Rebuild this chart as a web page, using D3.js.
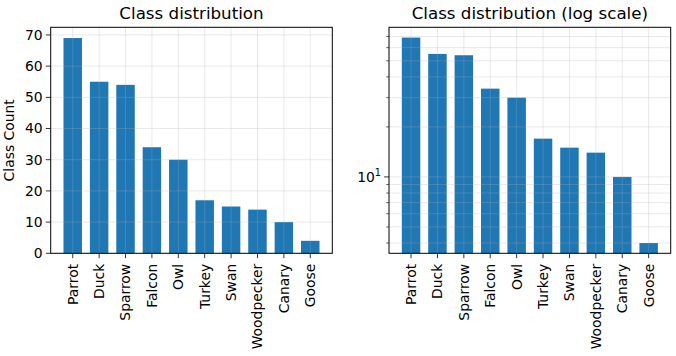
<!DOCTYPE html>
<html><head><meta charset="utf-8">
<script src="https://cdn.jsdelivr.net/npm/d3@7"></script>
<style>body{margin:0;background:#fff}svg{display:block}text{font-family:"DejaVu Sans",sans-serif;fill:#000}</style>
</head><body>
<svg id="c" width="676" height="356"></svg>
<script>
const categories = ["Parrot","Duck","Sparrow","Falcon","Owl","Turkey","Swan","Woodpecker","Canary","Goose"];
const counts = [69,55,54,34,30,17,15,14,10,4];
const linearTicks = [0,10,20,30,40,50,60,70];
const titles = ["Class distribution","Class distribution (log scale)"];
const yLabel = "Class Count";

(function(){
const svg = d3.select("#c");
const topY = 27.3, bottomY = 253.3;
const panels = [{left:50.7,right:332.3,log:false},{left:389,right:670.7,log:true}];
const barW = 0.7;
const n = categories.length;
const xmin = -barW/2 - 0.05*(n-1+barW), xmax = n-1+barW/2 + 0.05*(n-1+barW);

panels.forEach((p,pi)=>{
  const g = svg.append("g");
  const x = d3.scaleLinear().domain([xmin,xmax]).range([p.left,p.right]);
  let y;
  if(!p.log){
    y = d3.scaleLinear().domain([0, d3.max(counts)*1.05]).range([bottomY,topY]);
  } else {
    const lo = Math.log10(d3.min(counts)), hi = Math.log10(d3.max(counts));
    const m = 0.05*(hi-lo);
    y = d3.scaleLog().domain([Math.pow(10,lo-m), Math.pow(10,hi+m)]).range([bottomY,topY]);
  }
  g.selectAll("rect.bar").data(counts).enter().append("rect")
    .attr("x",(d,i)=>x(i-barW/2)).attr("width",(d,i)=>x(i+barW/2)-x(i-barW/2))
    .attr("y",d=>y(d)).attr("height",d=>bottomY-y(d)).attr("fill","#1f77b4");
  const grid = g.append("g").attr("stroke","#b0b0b0").attr("stroke-opacity",0.35).attr("stroke-width",0.8);
  categories.forEach((c,i)=>grid.append("line").attr("x1",x(i)).attr("x2",x(i)).attr("y1",topY).attr("y2",bottomY));
  let yt, minor=[];
  if(!p.log){ yt = linearTicks; }
  else {
    yt = [10];
    const [d0,d1]=y.domain();
    for(let e=0;e<3;e++) for(let k=1;k<10;k++){const v=k*Math.pow(10,e); if(v>=d0&&v<=d1&&v!==10) minor.push(v);}
  }
  yt.concat(minor).forEach(v=>grid.append("line").attr("x1",p.left).attr("x2",p.right).attr("y1",y(v)).attr("y2",y(v)));
  g.append("rect").attr("x",p.left).attr("y",topY).attr("width",p.right-p.left).attr("height",bottomY-topY)
    .attr("fill","none").attr("stroke","#000").attr("stroke-width",1);
  yt.forEach(v=>{
    g.append("line").attr("x1",p.left-4.9).attr("x2",p.left).attr("y1",y(v)).attr("y2",y(v)).attr("stroke","#000").attr("stroke-width",0.8);
    if(!p.log){
      g.append("text").attr("x",p.left-8).attr("y",y(v)).attr("dy","0.35em").attr("text-anchor","end").attr("font-size",13.9).text(v);
    } else {
      const t = g.append("text").attr("x",p.left-8).attr("y",y(v)).attr("dy","0.35em").attr("text-anchor","end").attr("font-size",13.9);
      t.append("tspan").text("10");
      t.append("tspan").attr("font-size",9.7).attr("dy","-0.55em").text("1");
    }
  });
  minor.forEach(v=>g.append("line").attr("x1",p.left-2.8).attr("x2",p.left).attr("y1",y(v)).attr("y2",y(v)).attr("stroke","#000").attr("stroke-width",0.6));
  categories.forEach((c,i)=>{
    g.append("line").attr("x1",x(i)).attr("x2",x(i)).attr("y1",bottomY).attr("y2",bottomY+4.9).attr("stroke","#000").attr("stroke-width",0.8);
    g.append("text").attr("transform",`translate(${x(i)},${bottomY+10.5}) rotate(-90)`).attr("dy","0.35em")
      .attr("text-anchor","end").attr("font-size",13.9).text(c);
  });
  g.append("text").attr("x",(p.left+p.right)/2).attr("y",19).attr("text-anchor","middle").attr("font-size",16.7).text(titles[pi]);
  if(pi===0){
    g.append("text").attr("transform",`translate(14,${(topY+bottomY)/2}) rotate(-90)`).attr("text-anchor","middle").attr("font-size",13.9).text(yLabel);
  }
});
})();
</script>
</body></html>
